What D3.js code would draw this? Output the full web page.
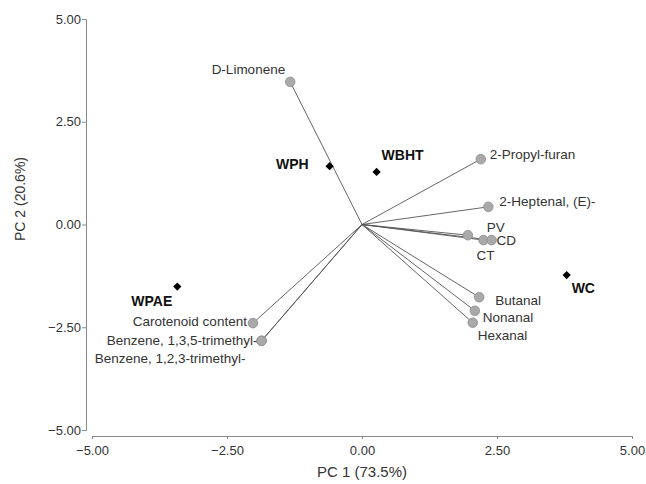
<!DOCTYPE html>
<html>
<head>
<meta charset="utf-8">
<script src="https://cdn.jsdelivr.net/npm/d3@7"></script>
<style>
  body { margin: 0; background: #fff; }
  svg { font-family: "Liberation Sans", Arial, sans-serif; }
</style>
</head>
<body>
<div id="biplot"></div>
<script>
// loadings (variables) on PC1 / PC2
var varNames = ["D-Limonene", "2-Propyl-furan", "2-Heptenal, (E)-", "PV", "CT", "CD",
                "Butanal", "Nonanal", "Hexanal", "Carotenoid content",
                "Benzene, 1,3,5-trimethyl-", "Benzene, 1,2,3-trimethyl-"];
var varPC1 = [-1.33, 2.20, 2.34, 1.96, 2.25, 2.40, 2.17, 2.09, 2.05, -2.02, -1.86, -1.86];
var varPC2 = [3.47, 1.59, 0.43, -0.26, -0.38, -0.38, -1.77, -2.10, -2.39, -2.40, -2.83, -2.83];

// scores (samples)
var sampleNames = ["WPH", "WBHT", "WC", "WPAE"];
var samplePC1 = [-0.60, 0.27, 3.79, -3.42];
var samplePC2 = [1.42, 1.28, -1.23, -1.51];

var tickVals = [-5, -2.5, 0, 2.5, 5];

// label placement (pixel offsets from the marker)
var labelPos = {
  "D-Limonene": [-5, -12, "end"],
  "2-Propyl-furan": [9, -5, "start"],
  "2-Heptenal, (E)-": [11, -5, "start"],
  "PV": [19, -8, "start"],
  "CT": [2, 15, "middle"],
  "CD": [5, 0, "start"],
  "Butanal": [16, 3, "start"],
  "Nonanal": [8, 7, "start"],
  "Hexanal": [5, 13, "start"],
  "Carotenoid content": [-6, -2, "end"],
  "Benzene, 1,3,5-trimethyl-": [-4, 0, "end"],
  "Benzene, 1,2,3-trimethyl-": [-16, 18, "end"],
  "WPH": [-21, -2, "end"],
  "WBHT": [5, -17, "start"],
  "WC": [5, 13, "start"],
  "WPAE": [-5, 14, "end"]
};

var W = 646, H = 484;

var svg = d3.select("#biplot")
  .append("svg")
    .attr("width", W)
    .attr("height", H);

var x = d3.scaleLinear().domain([-5, 5]).range([92, 632]);
var y = d3.scaleLinear().domain([-5, 5]).range([430, 19]);

var fmt = d3.format(".2f");
function tickFmt(d) { return fmt(d).replace("-", "\u2212"); }

// x axis
var gx = svg.append("g")
  .attr("transform", "translate(0,436)")
  .call(d3.axisBottom(x).tickValues(tickVals).tickFormat(tickFmt).tickSizeOuter(0).tickSize(3));
// y axis
var gy = svg.append("g")
  .attr("transform", "translate(86,0)")
  .call(d3.axisLeft(y).tickValues(tickVals).tickFormat(tickFmt).tickSizeOuter(0).tickSize(4));

[gx, gy].forEach(function(g) {
  g.select(".domain").attr("stroke", "#8a8a8a");
  g.selectAll(".tick line").attr("stroke", "#8a8a8a");
  g.selectAll(".tick text")
    .attr("fill", "#333")
    .style("font-size", "13px")
    .style("font-family", "Liberation Sans, Arial, sans-serif");
});
gx.selectAll(".tick text").attr("dy", "1.0em");
gy.selectAll(".tick text").attr("x", -5);

// axis titles
svg.append("text")
  .attr("x", 362).attr("y", 477)
  .attr("text-anchor", "middle")
  .style("font-size", "15px")
  .attr("fill", "#333")
  .text("PC 1 (73.5%)");
svg.append("text")
  .attr("transform", "translate(25,199) rotate(-90)")
  .attr("text-anchor", "middle")
  .style("font-size", "14px")
  .attr("fill", "#333")
  .text("PC 2 (20.6%)");

// loading vectors
for (var i = 0; i < varNames.length; i++) {
  svg.append("line")
    .attr("x1", x(0)).attr("y1", y(0))
    .attr("x2", x(varPC1[i])).attr("y2", y(varPC2[i]))
    .attr("stroke", "#555")
    .attr("stroke-width", 0.9);
}
for (var i = 0; i < varNames.length; i++) {
  var px = x(varPC1[i]), py = y(varPC2[i]);
  svg.append("circle")
    .attr("cx", px).attr("cy", py)
    .attr("r", 4.8)
    .attr("fill", "#a9a9a9")
    .attr("stroke", "#8c8c8c")
    .attr("stroke-width", 0.8);
  var lp = labelPos[varNames[i]];
  svg.append("text")
    .attr("x", px + lp[0]).attr("y", py + lp[1])
    .attr("text-anchor", lp[2])
    .attr("dominant-baseline", "central")
    .style("font-size", "13.5px")
    .attr("fill", "#333")
    .text(varNames[i]);
}

// sample scores
var diamond = d3.symbol().type(d3.symbolSquare).size(34);
for (var j = 0; j < sampleNames.length; j++) {
  var sx = x(samplePC1[j]), sy = y(samplePC2[j]);
  svg.append("path")
    .attr("d", diamond)
    .attr("transform", "translate(" + sx + "," + sy + ") rotate(45)")
    .attr("fill", "#000");
  var sp = labelPos[sampleNames[j]];
  svg.append("text")
    .attr("x", sx + sp[0]).attr("y", sy + sp[1])
    .attr("text-anchor", sp[2])
    .attr("dominant-baseline", "central")
    .style("font-size", "14px")
    .style("font-weight", "bold")
    .attr("fill", "#111")
    .text(sampleNames[j]);
}
</script>
</body>
</html>
